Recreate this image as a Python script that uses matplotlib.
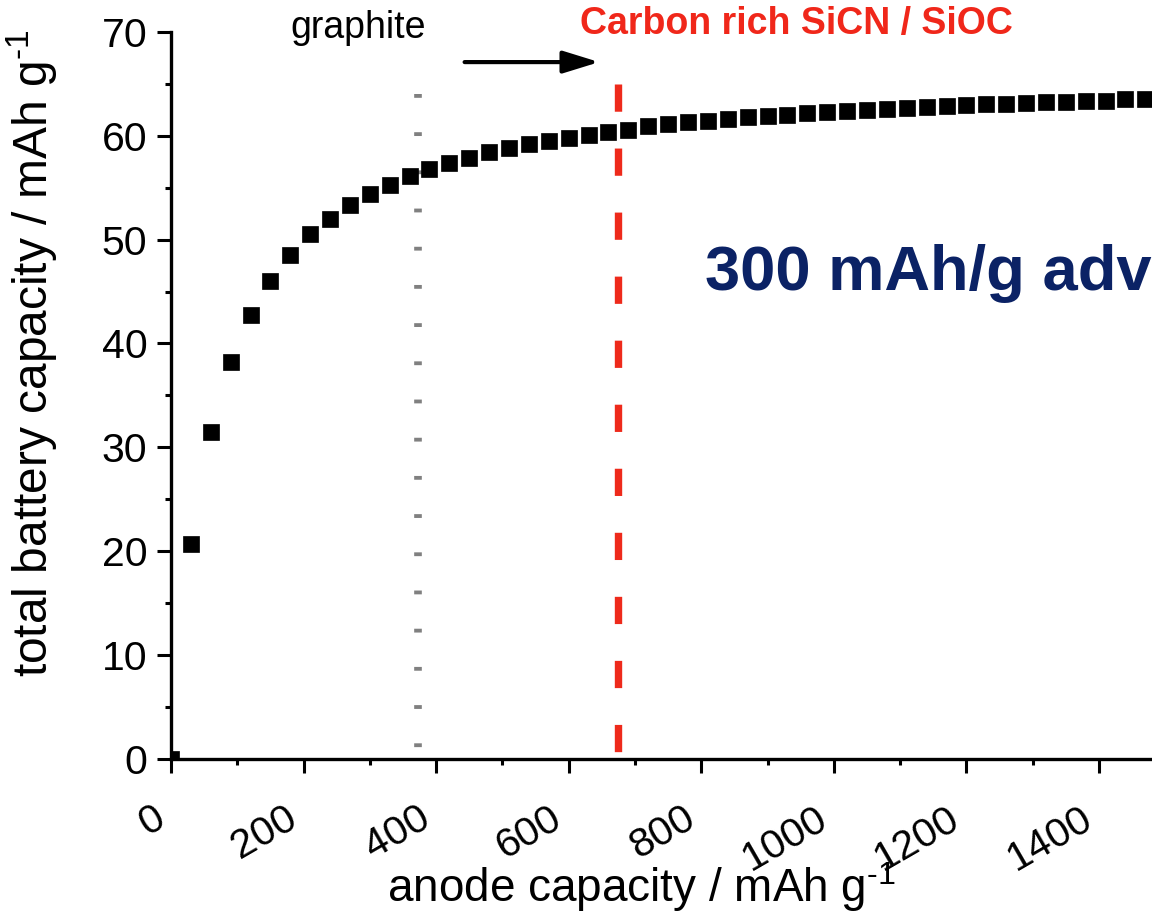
import matplotlib
matplotlib.use("Agg")
import matplotlib.pyplot as plt
from matplotlib.ticker import MultipleLocator

# anode capacity (mAh/g) vs. total battery capacity (mAh/g)
anode_capacity = [0, 30, 60, 90, 120, 150, 180, 210, 240, 270,
                  300, 330, 360, 390, 420, 450, 480, 510, 540, 570,
                  600, 630, 660, 690, 720, 750, 780, 810, 840, 870,
                  900, 930, 960, 990, 1020, 1050, 1080, 1110, 1140, 1170,
                  1200, 1230, 1260, 1290, 1320, 1350, 1380, 1410, 1440, 1470]
total_capacity = [0.0, 20.7, 31.5, 38.2, 42.7, 46.0, 48.5, 50.5, 52.0, 53.3,
                  54.4, 55.3, 56.1, 56.8, 57.4, 57.9, 58.4, 58.8, 59.2, 59.5,
                  59.8, 60.1, 60.4, 60.6, 60.9, 61.1, 61.3, 61.4, 61.6, 61.8,
                  61.9, 62.0, 62.2, 62.3, 62.4, 62.5, 62.6, 62.7, 62.8, 62.9,
                  63.0, 63.1, 63.1, 63.2, 63.3, 63.3, 63.4, 63.4, 63.5, 63.5]

graphite_x = 372
graphite_top = 64
sicn_x = 675
sicn_top = 65

plt.rcParams["font.family"] = ["Liberation Sans", "DejaVu Sans"]
plt.rcParams["mathtext.fontset"] = "custom"
plt.rcParams["mathtext.rm"] = "Liberation Sans"
plt.rcParams["mathtext.it"] = "Liberation Sans"

fig = plt.figure(figsize=(11.52, 9.14), dpi=100)
ax = fig.add_axes([0.1484, 0.170, 0.8516, 0.795])

ax.plot([graphite_x, graphite_x], [graphite_top, 0], color="#808080",
        lw=5.5, ls=(0, (0.5, 4.5)), solid_capstyle="butt", zorder=2)
ax.plot([sicn_x, sicn_x], [sicn_top, 0], color="#ee2a1b",
        lw=5.3, ls=(0, (3.7, 5.0)), zorder=2)
ax.plot(anode_capacity, total_capacity, ls="none", marker="s", ms=11.5,
        mfc="black", mec="black", mew=0.5, zorder=3)

ax.annotate("", xy=(646, 67.1), xytext=(443, 67.1),
            arrowprops=dict(arrowstyle="-|>,head_length=1.1,head_width=0.34",
                            mutation_scale=20, lw=3, color="black",
                            shrinkA=0, shrinkB=0),
            annotation_clip=False)

ax.text(283, 69.4, "graphite", fontsize=27, ha="center", va="baseline",
        clip_on=False)
ax.text(944, 69.8, "Carbon rich SiCN / SiOC", fontsize=27, fontweight="bold",
        color="#f0271a", ha="center", va="baseline", clip_on=False)
ax.text(805, 45.15, "300 mAh/g adv", fontsize=45.5, fontweight="bold",
        color="#0b2265", ha="left", va="baseline")

ax.set_xlim(0, 1480)
ax.set_ylim(0, 70)
ax.xaxis.set_major_locator(MultipleLocator(200))
ax.xaxis.set_minor_locator(MultipleLocator(100))
ax.yaxis.set_major_locator(MultipleLocator(10))
ax.yaxis.set_minor_locator(MultipleLocator(5))

for side in ("top", "right"):
    ax.spines[side].set_visible(False)
for side in ("left", "bottom"):
    ax.spines[side].set_linewidth(2.4)

ax.tick_params(which="major", length=10, width=2.2, direction="out",
               labelsize=29.5)
ax.tick_params(which="minor", length=4.5, width=2.2, direction="out")
ax.tick_params(axis="y", which="major", pad=7)
ax.tick_params(axis="x", which="major", pad=19)
for label in ax.get_xticklabels():
    label.set_rotation(30)
    label.set_ha("right")
    label.set_va("top")

ax.set_xlabel(r"anode capacity / mAh g$^{\text{-1}}$", fontsize=33,
              va="baseline")
ax.xaxis.set_label_coords(0.480, -0.1968)
ax.set_ylabel(r"total battery capacity / mAh g$^{\text{-1}}$", fontsize=34.5)
ax.yaxis.set_label_coords(-0.113, 0.558)

fig.savefig("out.png", dpi=100)
